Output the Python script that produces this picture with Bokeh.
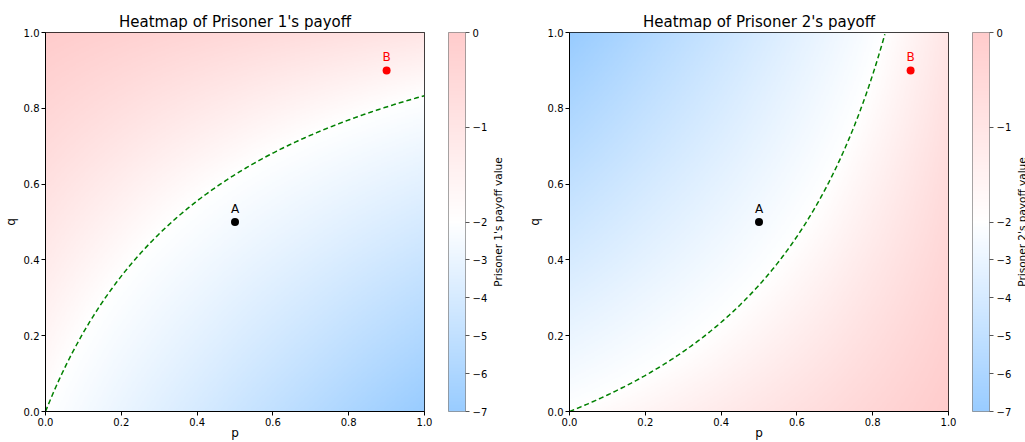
import numpy as np
from bokeh.plotting import figure
from bokeh.layouts import row
from bokeh.models import LinearColorMapper, FixedTicker, PrintfTickFormatter, Label, Range1d, LinearAxis
from bokeh.embed import file_html
from bokeh.resources import INLINE

# Payoffs for outcomes (P1,P2) = (C,C), (C,D), (D,C), (D,D); p = P(P1 cooperates), q = P(P2 cooperates)
payoff_p1 = [-1, -7, 0, -2]
payoff_p2 = [-1, 0, -7, -2]
vmin, vcenter, vmax = -7, -2, 0
contour_level = -2
cbar_ticks = [0, -1, -2, -3, -4, -5, -6, -7]
axis_ticks = [0.0, 0.2, 0.4, 0.6, 0.8, 1.0]
point_names = ["A", "B"]
point_p = [0.5, 0.9]
point_q = [0.5, 0.9]
point_colors = ["black", "red"]
cmap_colors = ["#99ccff", "#ffffff", "#ffcccc"]
titles = ["Heatmap of Prisoner 1's payoff", "Heatmap of Prisoner 2's payoff"]
cbar_labels = ["Prisoner 1's payoff value", "Prisoner 2's payoff value"]

FONT = "DejaVu Sans"
N = 300
H = 442
TOP = 32
BOTTOM = 31


def expected(pay, P, Q):
    a, b, c, d = pay
    return a * P * Q + b * P * (1 - Q) + c * (1 - P) * Q + d * (1 - P) * (1 - Q)


def norm(v):
    v = np.asarray(v, dtype=float)
    return np.where(v < vcenter, 0.5 * (v - vmin) / (vcenter - vmin),
                    0.5 + 0.5 * (v - vcenter) / (vmax - vcenter))


def contour_q(pay, pv):
    a, b, c, d = pay
    num = contour_level - (b * pv + d * (1 - pv))
    den = a * pv - b * pv + (c - d) * (1 - pv)
    return num / den


def make_palette(cols, n=256):
    rgb = np.array([[int(c[i:i + 2], 16) for i in (1, 3, 5)] for c in cols], dtype=float)
    out = []
    for t in np.linspace(0, 1, n):
        s = t * (len(cols) - 1)
        i = min(int(s), len(cols) - 2)
        f = s - i
        c = rgb[i] * (1 - f) + rgb[i + 1] * f
        out.append("#%02x%02x%02x" % tuple(int(round(x)) for x in c))
    return out


palette = make_palette(cmap_colors)
mapper = LinearColorMapper(palette=palette, low=0, high=1)

grid = np.linspace(0, 1, N)
P, Q = np.meshgrid(grid, grid)


def style_axis(ax, size="10px"):
    ax.major_label_text_font = FONT
    ax.major_label_text_font_size = size
    ax.major_label_text_color = "black"
    ax.axis_label_text_font = FONT
    ax.axis_label_text_font_style = "normal"
    ax.axis_label_text_font_size = "12px"
    ax.axis_label_text_color = "black"
    ax.major_tick_in = 0
    ax.major_tick_out = 4
    ax.minor_tick_line_color = None
    ax.axis_line_color = "black"
    ax.major_label_standoff = 2


def heat_fig(idx, pay):
    p = figure(width=436, height=H, min_border_left=45, min_border_right=12,
               min_border_top=TOP, min_border_bottom=BOTTOM,
               x_range=Range1d(0, 1), y_range=Range1d(0, 1),
               output_backend="svg", toolbar_location=None, title=titles[idx])
    p.title.text_font = FONT
    p.title.text_font_size = "15px"
    p.title.text_font_style = "normal"
    p.title.text_color = "black"
    p.title.align = "center"
    p.title.standoff = 4
    p.grid.visible = False
    p.outline_line_color = "black"
    p.background_fill_color = "white"
    p.border_fill_color = "white"
    U = expected(pay, P, Q)
    p.image(image=[norm(U)], x=0, y=0, dw=1, dh=1, color_mapper=mapper)
    pv = np.linspace(0, 1, 400)
    qv = contour_q(pay, pv)
    mask = (qv >= 0) & (qv <= 1.0001)
    p.line(pv[mask], qv[mask], line_color="green", line_width=1.5, line_dash="5 3")
    p.scatter(point_p, point_q, size=8, color=point_colors, line_color=None)
    for nm, x, y, c in zip(point_names, point_p, point_q, point_colors):
        p.add_layout(Label(x=x, y=y, text=nm, y_offset=6, text_align="center",
                           text_baseline="bottom", text_color=c, text_font=FONT,
                           text_font_size="12px"))
    for ax in (p.xaxis[0], p.yaxis[0]):
        style_axis(ax)
        ax.ticker = FixedTicker(ticks=axis_ticks)
        ax.formatter = PrintfTickFormatter(format="%.1f")
    p.xaxis.axis_label = "p"
    p.yaxis.axis_label = "q"
    p.xaxis.axis_label_standoff = -3
    p.yaxis.axis_label_standoff = 3
    return p


def cbar_fig(width, right):
    c = figure(width=width, height=H, min_border_left=12, min_border_right=right,
               min_border_top=TOP, min_border_bottom=BOTTOM,
               x_range=Range1d(0, 1), y_range=Range1d(0, 1),
               output_backend="svg", toolbar_location=None,
               x_axis_location=None, y_axis_location=None)
    c.grid.visible = False
    c.outline_line_color = "#888888"
    c.border_fill_color = "white"
    grad = np.linspace(0, 1, 256).reshape(256, 1)
    c.image(image=[grad], x=0, y=0, dw=1, dh=1, color_mapper=mapper)
    pos = [round(float(norm(t)), 6) for t in cbar_ticks]
    ax = LinearAxis(ticker=FixedTicker(ticks=pos))
    ax.major_label_overrides = {pv: ("0" if t == 0 else "\u2212%d" % abs(t)) for pv, t in zip(pos, cbar_ticks)}
    style_axis(ax)
    ax.major_label_standoff = 3
    ax.axis_line_color = None
    ax.major_tick_line_color = "#555555"
    c.add_layout(ax, "right")
    return c


def label_fig(idx, width, xpos):
    lf = figure(width=width, height=H, min_border_left=0, min_border_right=0,
                min_border_top=TOP, min_border_bottom=BOTTOM,
                x_range=Range1d(0, width), y_range=Range1d(0, 1),
                output_backend="svg", toolbar_location=None,
                x_axis_location=None, y_axis_location=None)
    lf.grid.visible = False
    lf.outline_line_color = None
    lf.border_fill_color = "white"
    lf.add_layout(Label(x=xpos, y=0.5, text=cbar_labels[idx], text_align="center",
                        text_baseline="middle", angle=np.pi / 2, text_font=FONT,
                        text_font_size="10.5px", text_color="black"))
    return lf


f1 = heat_fig(0, payoff_p1)
c1 = cbar_fig(54, 23)
l1 = label_fig(0, 34, 7)
f2 = heat_fig(1, payoff_p2)
c2 = cbar_fig(54, 23)
l2 = label_fig(1, 11, 7)

layout = row(f1, c1, l1, f2, c2, l2, spacing=0)
open("out.html", "w").write(file_html(layout, INLINE))
